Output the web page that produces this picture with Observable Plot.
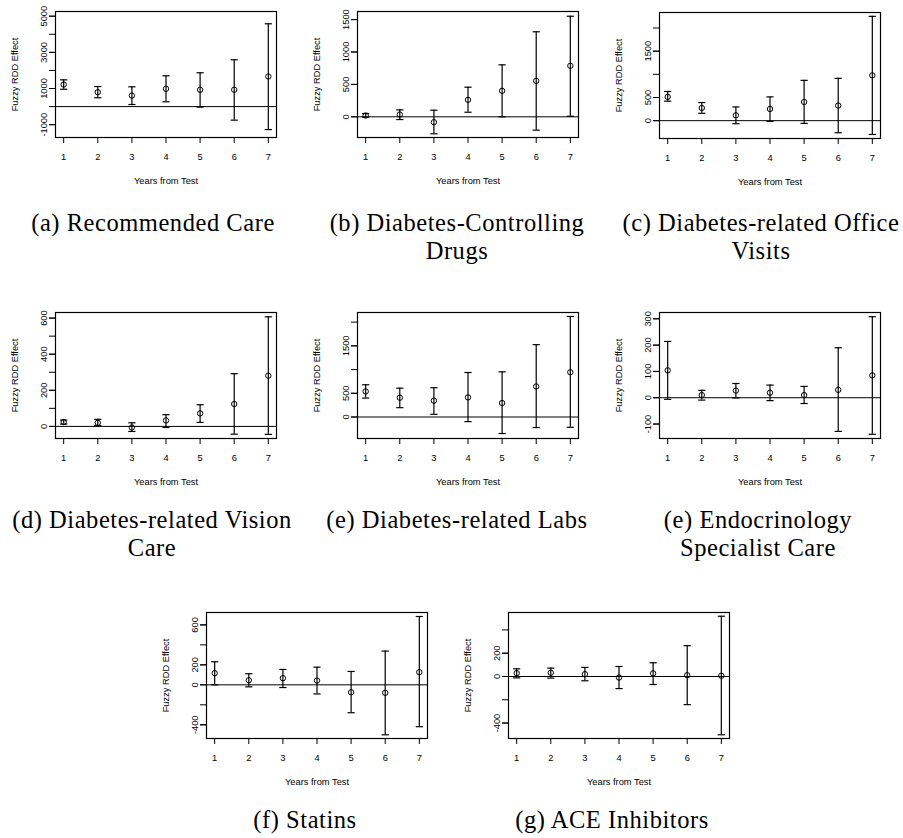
<!DOCTYPE html>
<html>
<head>
<meta charset="utf-8">
<script src="https://cdn.jsdelivr.net/npm/d3@7"></script>
<script src="https://cdn.jsdelivr.net/npm/@observablehq/plot@0.6"></script>
<style>
  html, body { margin: 0; padding: 0; background: #fff; }
  #page { position: relative; width: 903px; height: 838px; overflow: hidden; background: #fff; }
  .panel { position: absolute; }
  .cap { position: absolute; width: 420px; text-align: center; white-space: nowrap;
         font-family: "Liberation Serif", "Times New Roman", serif; font-size: 24.5px;
         line-height: 28px; letter-spacing: 0.55px; color: #000; }
</style>
</head>
<body>
<div id="page"></div>
<script>
// ---- data ----
const years = [1, 2, 3, 4, 5, 6, 7];

const recommendedEst = [1220, 800, 610, 985, 930, 930, 1665];
const recommendedLo  = [960, 490, 115, 265, -30, -750, -1270];
const recommendedHi  = [1480, 1110, 1095, 1705, 1870, 2590, 4580];

const drugsEst = [20, 35, -83, 262, 401, 555, 787];
const drugsLo  = [-5, -42, -262, 71, 0, -206, 9];
const drugsHi  = [51, 108, 102, 457, 802, 1312, 1552];

const officeEst = [513, 274, 115, 252, 404, 326, 978];
const officeLo  = [420, 159, -65, -15, -59, -261, -298];
const officeHi  = [630, 391, 296, 513, 870, 913, 2252];

const visionEst = [24, 20, -6, 33, 72, 124, 281];
const visionLo  = [13, 4, -28, -6, 22, -43, -44];
const visionHi  = [35, 39, 20, 65, 120, 292, 607];

const labsEst = [539, 407, 344, 413, 294, 644, 944];
const labsLo  = [399, 197, 57, -97, -348, -222, -217];
const labsHi  = [680, 608, 617, 938, 952, 1525, 2119];

const endoEst = [104, 10, 27, 19, 10, 30, 85];
const endoLo  = [-6, -9, -1, -11, -22, -128, -139];
const endoHi  = [214, 28, 54, 48, 43, 190, 308];

const statinsEst = [117, 46, 67, 43, -74, -80, 127];
const statinsLo  = [0, -20, -27, -91, -279, -500, -419];
const statinsHi  = [231, 111, 154, 177, 134, 338, 684];

const aceEst = [29, 32, 20, -9, 27, 11, 6];
const aceLo  = [-12, -14, -37, -104, -69, -242, -501];
const aceHi  = [66, 72, 78, 86, 118, 265, 518];

// y tick marks and the subset of them that carry labels
const recommendedTicks = [-1000, 0, 1000, 2000, 3000, 4000, 5000];
const recommendedLabels = [-1000, 1000, 3000, 5000];
const drugsTicks = [0, 500, 1000, 1500];
const drugsLabels = [0, 500, 1000, 1500];
const officeTicks = [0, 500, 1000, 1500, 2000];
const officeLabels = [0, 500, 1500];
const visionTicks = [0, 100, 200, 300, 400, 500, 600];
const visionLabels = [0, 200, 400, 600];
const labsTicks = [0, 500, 1000, 1500, 2000];
const labsLabels = [0, 500, 1500];
const endoTicks = [-100, 0, 100, 200, 300];
const endoLabels = [-100, 0, 100, 200, 300];
const statinsTicks = [-400, -200, 0, 200, 400, 600];
const statinsLabels = [-400, 0, 200, 600];
const aceTicks = [-400, -200, 0, 200, 400];
const aceLabels = [-400, 0, 200];

const captions = [
  ["(a) Recommended Care"],
  ["(b) Diabetes-Controlling", "Drugs"],
  ["(c) Diabetes-related Office", "Visits"],
  ["(d) Diabetes-related Vision", "Care"],
  ["(e) Diabetes-related Labs"],
  ["(e) Endocrinology", "Specialist Care"],
  ["(f) Statins"],
  ["(g) ACE Inhibitors"]
];

const xTitle = "Years from Test";
const yTitle = "Fuzzy RDD Effect";

// ---- layout ----
const panels = [
  {est: recommendedEst, lo: recommendedLo, hi: recommendedHi, ticks: recommendedTicks, labels: recommendedLabels, domain: [-1709, 5260], left: 0,   top: 0,   cx: 153, cy: 209},
  {est: drugsEst,       lo: drugsLo,       hi: drugsHi,       ticks: drugsTicks,       labels: drugsLabels,       domain: [-319, 1625],  left: 302, top: 0,   cx: 457, cy: 209},
  {est: officeEst,      lo: officeLo,      hi: officeHi,      ticks: officeTicks,      labels: officeLabels,      domain: [-385, 2335],  left: 604, top: 1,   cx: 761, cy: 209},
  {est: visionEst,      lo: visionLo,      hi: visionHi,      ticks: visionTicks,      labels: visionLabels,      domain: [-67, 631],    left: 0,   top: 301, cx: 152, cy: 506},
  {est: labsEst,        lo: labsLo,        hi: labsHi,        ticks: labsTicks,        labels: labsLabels,        domain: [-453, 2203],  left: 302, top: 301, cx: 457, cy: 506},
  {est: endoEst,        lo: endoLo,        hi: endoHi,        ticks: endoTicks,        labels: endoLabels,        domain: [-155, 324],   left: 604, top: 301, cx: 758, cy: 506},
  {est: statinsEst,     lo: statinsLo,     hi: statinsHi,     ticks: statinsTicks,     labels: statinsLabels,     domain: [-537, 724],   left: 151, top: 601, cx: 305, cy: 806},
  {est: aceEst,         lo: aceLo,         hi: aceHi,         ticks: aceTicks,         labels: aceLabels,         domain: [-533, 550],   left: 453, top: 601, cx: 612, cy: 806}
];

const capSymbol = {
  draw(context, size) {
    const w = Math.sqrt(size / Math.PI);
    context.moveTo(-w, 0);
    context.lineTo(w, 0);
  }
};

function makePanel(p) {
  const data = years.map((yr, i) => ({year: yr, est: p.est[i], lo: p.lo[i], hi: p.hi[i]}));
  return Plot.plot({
    width: 278, height: 190,
    marginLeft: 55, marginRight: 2, marginTop: 11, marginBottom: 53,
    style: {fontFamily: "'Liberation Sans', Arial, sans-serif", fontSize: "9.3px", background: "white", color: "black", overflow: "visible"},
    x: {domain: [0.76, 7.24]},
    y: {domain: p.domain},
    marks: [
      Plot.ruleY([0], {stroke: "black", strokeWidth: 1}),
      Plot.ruleX(data, {x: "year", y1: "lo", y2: "hi", stroke: "black", strokeWidth: 1.2}),
      Plot.dot(data, {x: "year", y: "lo", symbol: capSymbol, r: 3.6, stroke: "black", strokeWidth: 1.2, fill: "none"}),
      Plot.dot(data, {x: "year", y: "hi", symbol: capSymbol, r: 3.6, stroke: "black", strokeWidth: 1.2, fill: "none"}),
      Plot.dot(data, {x: "year", y: "est", r: 2.7, stroke: "black", strokeWidth: 1, fill: "none"}),
      Plot.frame({stroke: "black", strokeWidth: 1.2}),
      Plot.axisX(years, {tickSize: 6, tickPadding: 9.5, label: null, tickFormat: d => String(d), stroke: "black", fill: "black"}),
      Plot.axisY(p.ticks, {tickSize: 6, label: null, tickFormat: () => "", stroke: "black"}),
      Plot.axisY(p.labels, {tickSize: 6, tickRotate: -90, tickPadding: 3, label: null, tickFormat: d => String(d), stroke: "black", fill: "black"}),
      Plot.text([xTitle], {frameAnchor: "bottom", dy: 46.5, lineAnchor: "bottom", textAnchor: "middle", fill: "black", fontSize: 9.3}),
      Plot.text([yTitle], {frameAnchor: "left", dx: -40, rotate: -90, lineAnchor: "middle", textAnchor: "middle", fill: "black", fontSize: 9.3})
    ]
  });
}

const page = document.getElementById("page");
panels.forEach((p, i) => {
  const div = document.createElement("div");
  div.className = "panel";
  div.style.left = p.left + "px";
  div.style.top = p.top + "px";
  div.appendChild(makePanel(p));
  page.appendChild(div);

  const cap = document.createElement("div");
  cap.className = "cap";
  cap.style.left = (p.cx - 210) + "px";
  cap.style.top = p.cy + "px";
  captions[i].forEach((line, j) => {
    if (j > 0) cap.appendChild(document.createElement("br"));
    cap.appendChild(document.createTextNode(line));
  });
  page.appendChild(cap);
});
</script>
</body>
</html>
